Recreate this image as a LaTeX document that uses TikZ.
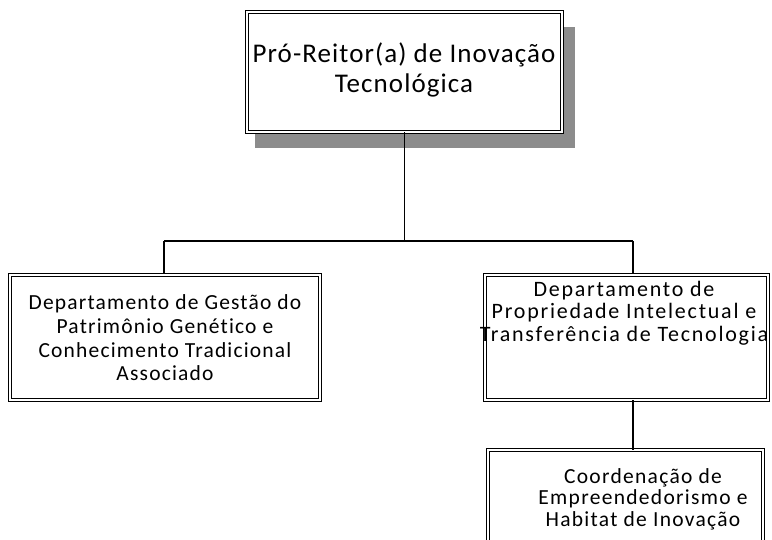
\documentclass[tikz,border=0pt]{standalone}
\usepackage{fontspec}
\setmainfont{Carlito}[Ligatures=NoCommon]
\begin{document}
\begin{tikzpicture}[x=1pt,y=-1pt,
  box/.style={draw=black, line width=1pt, double=white, double distance=1.2pt, fill=white, inner sep=0pt},
  conn/.style={draw=black, line width=1.2pt},
  txt/.style={align=center, inner sep=0pt},
  toptxt/.style={txt, font=\addfontfeatures{LetterSpace=4}\fontsize{27}{30}\selectfont},
  lefttxt/.style={txt, font=\addfontfeatures{LetterSpace=5.5}\fontsize{21.5}{23.7}\selectfont},
  righttxt/.style={txt, font=\addfontfeatures{LetterSpace=8}\fontsize{22}{22.5}\selectfont},
  bottxt/.style={txt, font=\addfontfeatures{LetterSpace=6}\fontsize{21.5}{21.5}\selectfont}]
\useasboundingbox (0,0) rectangle (772,540);
% shadow of top box
\fill[black!45] (255,27) rectangle (575,148);
% boxes
\node[box, minimum width=315pt, minimum height=120pt] (top) at (404.5,72) {};
\node[box, minimum width=310pt, minimum height=125pt] (left) at (165,337.5) {};
\node[box, minimum width=283pt, minimum height=125pt] (right) at (626.5,337.5) {};
\node[box, minimum width=275pt, minimum height=98pt] (bottom) at (625.5,499) {};
% texts
\node[toptxt] (ttop) at (404,70) {Pró-Reitor(a) de Inovação\\Tecnológica};
\node[lefttxt] (tleft) at (165,338) {Departamento de Gestão do\\Patrimônio Genético e\\Conhecimento Tradicional\\Associado};
\node[righttxt] (tright) at (624,313) {Departamento de\\Propriedade Intelectual e\\Transferência de Tecnologia};
\node[bottxt] (tbottom) at (643,499) {Coordenação de\\Empreendedorismo e\\Habitat de Inovação};
% connectors
\coordinate (jl) at (164,241);
\coordinate (jr) at (633,241);
\coordinate (jt) at (top.south |- jl);
\draw[conn] (top.south) -- (jt);
\draw[conn] (jl) -- (jr);
\draw[conn] (jl) -- (jl |- left.north);
\draw[conn] (jr) -- (jr |- right.north);
\draw[conn] (jr |- right.south) -- (jr |- bottom.north);
\end{tikzpicture}
\end{document}
